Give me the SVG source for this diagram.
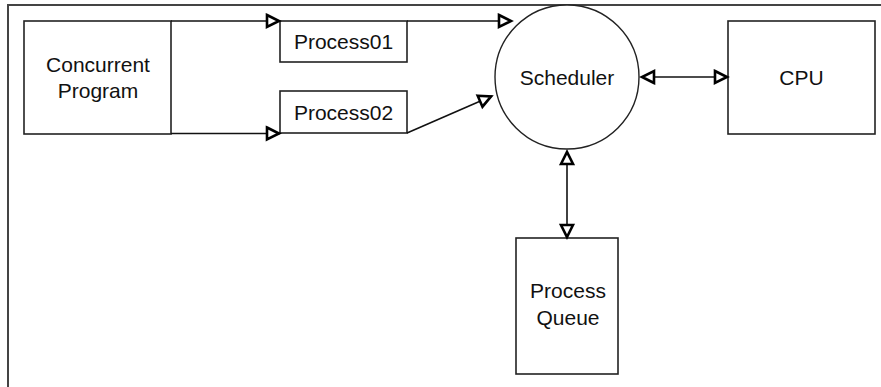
<svg xmlns="http://www.w3.org/2000/svg" width="881" height="387" viewBox="0 0 881 387">
<style>
.box{fill:#fff;stroke:#222;stroke-width:1.6}
.lbl{font-family:"Liberation Sans",Arial,sans-serif;font-size:21px;fill:#111;text-anchor:middle}
.conn{fill:none;stroke:#111;stroke-width:1.6}
.frame{fill:none;stroke:#444;stroke-width:2}
</style>
<defs>
<marker id="tri" viewBox="-3 -3 20 18" markerWidth="20" markerHeight="18" refX="13" refY="6" orient="auto-start-reverse" markerUnits="userSpaceOnUse">
<path d="M0,0 L12,6 L0,12 Z" fill="#fff" stroke="#000" stroke-width="2.6"/>
</marker>
</defs>
<rect width="881" height="387" fill="#fff"/>
<path class="frame" d="M8,387 V5 H881"/>
<g id="concurrent-program">
<rect class="box" x="24" y="21" width="147" height="113"/>
<text class="lbl" x="98" y="71.5">Concurrent</text>
<text class="lbl" x="98" y="98">Program</text>
</g>
<g id="process01">
<rect class="box" x="280" y="21" width="127" height="41"/>
<text class="lbl" x="343.5" y="49">Process01</text>
</g>
<g id="process02">
<rect class="box" x="280" y="91" width="127" height="42"/>
<text class="lbl" x="343.5" y="120">Process02</text>
</g>
<g id="scheduler">
<circle cx="567" cy="77" r="72" fill="#fff" stroke="#222" stroke-width="1.4"/>
<text class="lbl" x="567" y="85">Scheduler</text>
</g>
<g id="cpu">
<rect class="box" x="728" y="21" width="147" height="113"/>
<text class="lbl" x="801.5" y="85">CPU</text>
</g>
<g id="process-queue">
<rect class="box" x="516" y="238" width="102" height="136"/>
<text class="lbl" x="568" y="298">Process</text>
<text class="lbl" x="568" y="325">Queue</text>
</g>
<g id="connectors">
<path class="conn" d="M171,21 H280" marker-end="url(#tri)"/>
<path class="conn" d="M171,133.5 H280" marker-end="url(#tri)"/>
<path class="conn" d="M407,21 H512" marker-end="url(#tri)"/>
<path class="conn" d="M407,133 L492,96" marker-end="url(#tri)"/>
<path class="conn" d="M641,77 H728" marker-start="url(#tri)" marker-end="url(#tri)"/>
<path class="conn" d="M567,151 V238" marker-start="url(#tri)" marker-end="url(#tri)"/>
</g>
</svg>
